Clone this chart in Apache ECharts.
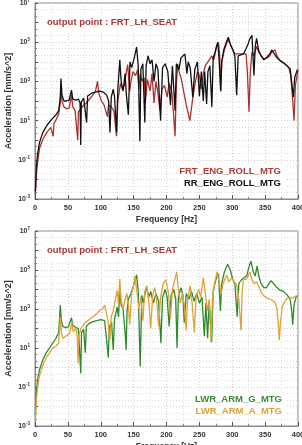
<!DOCTYPE html>
<html><head><meta charset="utf-8">
<script src="https://cdn.jsdelivr.net/npm/echarts@6/dist/echarts.min.js"></script>
<style>html,body{margin:0;padding:0;background:#fff}#c{width:302px;height:445px}</style>
</head><body><div id="c"></div>
<script>
// Each point: [frequency Hz, log10(acceleration mm/s^2)]
const frtEngRoll = [[0.5,-2.8],[2,-1.8],[4,-1.1],[7,-0.4],[12,0.05],[18,0.4],[24,0.65],[27,0.75],[27.8,0.2],[28.8,0.85],[33,1.1],[36,1.35],[38.5,1.9],[39.5,2.8],[41,2.0],[44,1.7],[48,1.6],[52,1.65],[55.5,2.3],[57.5,1.7],[61,1.5],[64,1.4],[65,0.0],[66,1.45],[70,1.6],[73,1.75],[78,1.9],[83,2.1],[88,2.3],[92,2.5],[95,3.0],[97,2.4],[101,2.0],[105,1.8],[108,1.7],[110,1.2],[112,1.8],[116,1.7],[120,1.5],[124,0.2],[126,2.0],[130,2.9],[133,2.6],[136,2.8],[139,3.5],[141,3.85],[144,2.5],[146,3.0],[149,3.5],[153,3.3],[156,3.6],[158,2.6],[160,3.4],[163,3.0],[166,3.2],[168,2.0],[171,3.1],[175,2.5],[178,3.4],[181,1.9],[184,3.0],[187,2.4],[190,1.5],[193,2.6],[197,2.8],[201,2.2],[204,2.9],[208,2.5],[211,1.2],[213,0.2],[215,2.8],[217,3.9],[219,3.5],[222,3.2],[226,2.5],[230,1.8],[235.5,1.0],[239,1.9],[243,2.8],[247,3.5],[250,3.3],[253,2.6],[256,3.4],[259,3.8],[263,4.0],[266,4.05],[269,4.3],[272,4.1],[276,4.8],[279,5.0],[281,4.3],[282.5,2.5],[284,4.0],[288,4.6],[291,4.9],[294,5.15],[297,4.9],[301,4.6],[304,4.4],[307,4.3],[311,4.4],[315,4.4],[318,4.5],[321,4.4],[323,3.5],[325.5,1.45],[327.5,3.5],[330,4.5],[333,4.3],[337,4.8],[340,4.5],[344,4.3],[348,4.15],[353,4.2],[357,4.3],[361,4.55],[365,4.6],[368,4.3],[372,4.1],[377,3.95],[382,3.85],[386,3.7],[389,3.3],[392,2.0],[394,1.0],[396,2.8],[400,3.6]];
const rrEngRoll = [[0.5,-2.6],[2,-1.4],[4,-0.7],[7,-0.1],[12,0.4],[18,0.75],[25,1.05],[32,1.3],[36,1.5],[38.5,2.2],[39.5,3.15],[41,2.3],[44,2.0],[48,2.0],[52,2.05],[55.5,2.55],[57.5,2.1],[62,2.05],[66,2.1],[68.5,1.9],[69.5,-0.25],[70.5,1.95],[74,2.15],[77,2.2],[78.5,0.9],[80,2.25],[86,2.4],[92,2.45],[98,2.5],[104,2.45],[109,2.3],[112,2.0],[114,0.4],[116,2.2],[119,2.6],[121,2.2],[124,0.4],[126,2.6],[129,4.1],[131,3.0],[134,2.5],[137,3.4],[139,2.3],[142,1.3],[144.5,4.0],[147,3.7],[151,4.2],[154.5,4.75],[157,3.8],[159.5,-0.05],[161,3.6],[164,3.9],[167,0.9],[169,3.8],[172,4.3],[175,3.9],[178,4.1],[181,3.0],[184,3.9],[187,3.6],[191,1.0],[194,3.7],[198,3.9],[202,3.5],[206,1.8],[209,3.8],[213,1.5],[215,3.9],[219,3.6],[222,4.2],[228,4.4],[231,3.4],[233,4.0],[236,3.7],[240,2.2],[243,3.6],[247,4.0],[250,2.25],[253,3.5],[256,2.0],[258,3.5],[261,1.85],[263,3.5],[266,3.8],[269,1.7],[271,4.2],[274,4.5],[278,5.0],[280,4.1],[282.4,2.5],[284,4.0],[287,4.6],[291,5.0],[294,5.25],[297,4.9],[301,4.6],[304,4.3],[306.7,2.3],[309,4.3],[313,4.35],[317,4.4],[320,4.6],[324,4.9],[327,5.2],[330,5.35],[333,3.3],[335,4.8],[337,5.2],[340,4.6],[344,4.3],[348,4.1],[353,4.25],[357,4.4],[360,4.6],[364,4.4],[368,4.2],[373,4.05],[378,3.95],[383,3.8],[388,3.65],[391,3.6],[393,2.2],[395,3.2],[399,3.6]];
const lwrArmG = [[0.5,-2.5],[2,-1.3],[4,-0.6],[7,-0.1],[12,0.4],[17,0.75],[22,1.0],[27,1.25],[32,1.5],[36,1.8],[38.5,3.2],[40,2.4],[42.5,2.1],[47,2.05],[51,2.1],[55.5,2.55],[57.5,2.15],[62,2.05],[66,2.0],[68.5,1.9],[69.6,-0.3],[70.8,1.8],[74,1.95],[76.5,0.75],[78,2.1],[82,2.25],[88,2.35],[94,2.4],[100,2.45],[106,2.4],[109,2.3],[111.5,0.5],[113,2.1],[116.5,2.3],[119,0.9],[121,2.5],[125,3.1],[127,2.6],[129,4.05],[131,3.2],[134,3.0],[137,1.8],[138.6,0.9],[140,2.9],[142,3.5],[146,3.8],[150,4.2],[154.6,4.75],[157,3.9],[160,0.05],[162.5,3.7],[165,3.3],[168,3.9],[170,4.1],[173,3.6],[176,3.9],[180,3.3],[184,3.8],[188,3.4],[191.5,1.25],[194,3.6],[198,4.0],[201,3.6],[204,2.1],[207,3.7],[211,4.0],[214,3.5],[216,1.0],[218,3.6],[222,4.1],[225,3.7],[227,2.3],[230,3.8],[234,3.5],[238,3.9],[242,3.4],[246,3.8],[250,3.3],[254,3.6],[257.5,1.6],[260,3.3],[262.5,1.5],[265,3.4],[268.7,1.3],[271,3.9],[275,4.5],[279,4.8],[282,2.9],[284,4.3],[288,4.9],[293,5.3],[297,5.0],[301,4.5],[304,4.3],[307.5,2.6],[310,4.3],[314,4.5],[318,4.6],[322,4.7],[325,5.1],[328.5,5.45],[332,4.9],[335,4.7],[337.7,5.2],[341,4.6],[344,4.3],[348,4.1],[352,4.1],[356,4.3],[359,4.45],[363,4.3],[368,4.1],[373,3.95],[378,3.9],[383,3.75],[388,3.5],[390.5,2.9],[392,2.2],[394,3.2],[397,3.6],[400,3.7]];
const lwrArmA = [[0.5,-2.8],[2,-1.7],[4,-1.0],[7,-0.4],[12,0.1],[17,0.5],[22,0.75],[27,1.0],[32,1.1],[36,1.25],[38.5,2.6],[40,1.8],[42.5,1.5],[47,1.6],[52.7,1.75],[56,2.3],[58,1.85],[63,2.0],[64.5,1.4],[65.5,0.2],[66.5,1.6],[70,2.0],[74,2.2],[78,2.35],[84,2.5],[90,2.65],[95,2.8],[99,2.95],[103,3.0],[106,3.2],[109,3.1],[111,2.4],[114,1.4],[116,2.6],[119,2.9],[122,3.0],[125,3.95],[127,3.3],[129,4.55],[131,3.4],[134,3.0],[137,3.5],[139.6,3.8],[142,3.2],[144,2.2],[147,3.8],[150,4.2],[152,4.7],[155,3.9],[158,3.0],[161,3.6],[164,2.4],[167,3.9],[170,4.2],[173,3.4],[176,2.0],[179,3.7],[182,4.1],[185,3.5],[188,2.1],[191,3.6],[195,4.3],[199,4.5],[203,3.8],[206,2.5],[209,4.0],[212,4.4],[215.5,4.9],[218,4.0],[221,3.3],[224,3.8],[227,3.2],[229.8,1.9],[232,3.5],[236,4.2],[239,3.3],[242.3,1.8],[245,3.6],[249,4.0],[252,3.6],[256,4.6],[259,3.8],[262,2.9],[265,3.5],[267.7,1.3],[270,3.6],[273,4.3],[277,4.9],[280,4.4],[283,3.8],[286,4.3],[291.5,4.75],[295,4.4],[299,4.6],[303,4.4],[307,4.2],[310,3.5],[313.3,1.9],[315,3.8],[317,4.55],[321,4.5],[324,4.7],[327,4.9],[330,4.5],[333,4.3],[337,4.4],[341,4.1],[345,3.8],[349,3.65],[353,3.55],[357,3.5],[361,3.45],[365,3.35],[368,3.0],[370,2.2],[371.6,1.4],[373,2.2],[376,3.1],[380,3.4],[384,3.55],[388,3.6],[392,3.55],[396,3.65],[400,3.7]];
const xTicks = {min:0, max:400, interval:50};
const yTicks = {min:-3, max:7, interval:1};
const titleText = 'output point : FRT_LH_SEAT';
const xName = 'Frequency [Hz]';
const yName = 'Acceleration [mm/s^2]';
const names = ['FRT_ENG_ROLL_MTG','RR_ENG_ROLL_MTG','LWR_ARM_G_MTG','LWR_ARM_A_MTG'];

const F = 'Liberation Sans, Arial, sans-serif';
const grids = [
  {left:35, top:3, width:263, height:196},
  {left:35, top:231, width:263, height:195}
];
function xAxis(i){
  return {type:'value', gridIndex:i, min:xTicks.min, max:xTicks.max, interval:xTicks.interval,
    name:xName, nameLocation:'middle', nameGap:16, nameMoveOverlap:false,
    nameTextStyle:{fontFamily:F, fontSize:8.5, fontWeight:'bold', color:'#333'},
    axisLine:{show:true, onZero:false, lineStyle:{color:'#888', width:1}},
    axisTick:{show:true, inside:true, length:4, lineStyle:{color:'#555'}},
    minorTick:{show:true, splitNumber:2, length:2, lineStyle:{color:'#777'}},
    axisLabel:{fontFamily:F, fontSize:7.5, fontWeight:'bold', color:'#333', margin:5},
    splitLine:{show:true, lineStyle:{color:'#d0d0d0', type:[1,2], width:1}},
    minorSplitLine:{show:true, lineStyle:{color:'#dcdcdc', type:[1,2], width:1}}
  };
}
function yAxis(i){
  return {type:'value', gridIndex:i, min:yTicks.min, max:yTicks.max, interval:yTicks.interval,
    name:yName, nameLocation:'middle', nameGap:22, nameRotate:90, nameMoveOverlap:false,
    nameTextStyle:{fontFamily:F, fontSize:9, fontWeight:'bold', color:'#333'},
    axisLine:{show:true, lineStyle:{color:'#888', width:1}},
    axisTick:{show:true, inside:true, length:3, lineStyle:{color:'#555'}},
    minorTick:{show:true, splitNumber:3, length:2, lineStyle:{color:'#777'}},
    axisLabel:{margin:5, formatter:function(v){ return (Math.abs(v)%2===1) ? '{b|10}{s|'+v+'}' : ''; },
      rich:{b:{fontFamily:F, fontSize:7, fontWeight:'bold', color:'#333'},
            s:{fontFamily:F, fontSize:4.5, fontWeight:'bold', color:'#333', verticalAlign:'top', padding:[0,0,4,0]}}},
    splitLine:{show:true, lineStyle:{color:'#cfcfcf', type:[1,2], width:1}},
    minorSplitLine:{show:true, lineStyle:{color:'#dcdcdc', type:[1,2], width:1}}
  };
}
function line(data, color, xi, z){
  return {type:'line', xAxisIndex:xi, yAxisIndex:xi, data:data, showSymbol:false, symbol:'none',
    lineStyle:{color:color, width:1.3}, z:z, animation:false, clip:true};
}
const option = {
  animation:false,
  grid: grids.map(g=>Object.assign({show:true, borderColor:'#888', borderWidth:1, backgroundColor:'#fff', containLabel:false, outerBoundsMode:'none'}, g)),
  xAxis:[xAxis(0), xAxis(1)],
  yAxis:[yAxis(0), yAxis(1)],
  series:[
    line(frtEngRoll, '#a83232', 0, 2),
    line(rrEngRoll, '#111111', 0, 3),
    line(lwrArmG, '#2e8a2e', 1, 2),
    line(lwrArmA, '#e0a234', 1, 3)
  ],
  graphic:[
    {type:'rect', shape:{x:42, y:14, width:142, height:17}, style:{fill:'#fff'}, z:90},
    {type:'text', x:47, y:22.5, z:100, style:{text:titleText, fill:'#a83838', font:'bold 9.5px '+F, verticalAlign:'middle'}},
    {type:'rect', shape:{x:178, y:163, width:108, height:26}, style:{fill:'#fff'}, z:90},
    {type:'text', x:281, y:171, z:100, style:{text:names[0], fill:'#b03a3a', font:'bold 9.5px '+F, align:'right', verticalAlign:'middle'}},
    {type:'text', x:281, y:183, z:100, style:{text:names[1], fill:'#111', font:'bold 9.5px '+F, align:'right', verticalAlign:'middle'}},
    {type:'rect', shape:{x:42, y:242, width:142, height:17}, style:{fill:'#fff'}, z:90},
    {type:'text', x:47, y:250, z:100, style:{text:titleText, fill:'#a83838', font:'bold 9.5px '+F, verticalAlign:'middle'}},
    {type:'rect', shape:{x:190, y:391, width:96, height:27}, style:{fill:'#fff'}, z:90},
    {type:'text', x:282, y:399, z:100, style:{text:names[2], fill:'#3a8a3a', font:'bold 9.5px '+F, align:'right', verticalAlign:'middle'}},
    {type:'text', x:282, y:411.5, z:100, style:{text:names[3], fill:'#e0a234', font:'bold 9.5px '+F, align:'right', verticalAlign:'middle'}}
  ]
};
const chart = echarts.init(document.getElementById('c'), null, {renderer:'canvas'});
chart.setOption(option);
</script></body></html>
